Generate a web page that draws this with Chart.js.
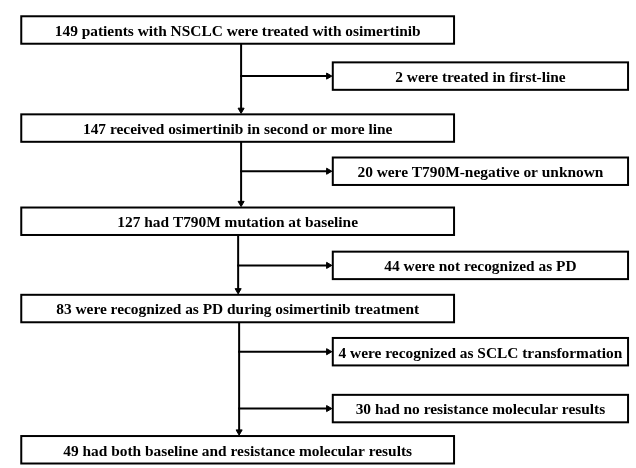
<html>

<head>
  <meta charset="utf-8">
  <style>
    html,
    body {
      margin: 0;
      padding: 0;
      background: #fff;
    }
  </style>
</head>

<body>
  <canvas id="flow" width="636" height="468"></canvas>
  <script src="https://cdn.jsdelivr.net/npm/chart.js@4.4.1/dist/chart.umd.min.js"></script>
  <script type="text/javascript">
    // patient flow: main path and the exclusions that branch off it
    const mainSteps = [
      '149 patients with NSCLC were treated with osimertinib',
      '147 received osimertinib in second or more line',
      '127 had T790M mutation at baseline',
      '83 were recognized as PD during osimertinib treatment',
      '49 had both baseline and resistance molecular results',
    ];
    const exclusions = [
      '2 were treated in first-line',
      '20 were T790M-negative or unknown',
      '44 were not recognized as PD',
      '4 were recognized as SCLC transformation',
      '30 had no resistance molecular results',
    ];
    // index of the main step each exclusion leaves from
    const exclusionFrom = [0, 1, 2, 3, 3];

    // layout (canvas units, y down)
    const mainTop = [12, 112, 207, 296, 440];
    const sideTop = [59, 156, 252, 340, 398];
    const boxH = 28;
    const mainLeft = 17, mainRight = 456;
    const sideLeft = 333, sideRight = 632.5;
    const trunkX = [240, 240, 237, 238];
    const headR = 3.5;
    const font = 'bold 15.4px "Liberation Serif"';

    const datasets = [];
    const arrow = (pts, rot) => ({
      data: pts,
      showLine: true,
      borderColor: '#000',
      borderWidth: 2,
      pointRadius: [0, headR],
      pointHoverRadius: 0,
      pointStyle: 'triangle',
      rotation: [0, rot],
      pointBackgroundColor: '#000',
      pointBorderColor: '#000',
      pointBorderWidth: 1,
    });
    // vertical trunk between main steps
    for (let i = 0; i < mainSteps.length - 1; i++) {
      datasets.push(arrow([
        { x: trunkX[i], y: mainTop[i] + boxH },
        { x: trunkX[i], y: mainTop[i + 1] - 1 - headR },
      ], 180));
    }
    // side branches to exclusion boxes
    exclusions.forEach((t, j) => {
      const y = sideTop[j] + boxH / 2;
      datasets.push(arrow([
        { x: trunkX[exclusionFrom[j]] - 1, y: y },
        { x: sideLeft - 1 - headR, y: y },
      ], 90));
    });

    const boxes = {
      id: 'boxes',
      afterDatasetsDraw(chart) {
        const { ctx, scales: { x, y } } = chart;
        const draw = (l, r, top, h, text) => {
          const px = x.getPixelForValue(l), pr = x.getPixelForValue(r);
          const py = y.getPixelForValue(top), pb = y.getPixelForValue(top + h);
          ctx.save();
          ctx.fillStyle = '#fff';
          ctx.fillRect(px, py, pr - px, pb - py);
          ctx.lineWidth = 2;
          ctx.strokeStyle = '#000';
          ctx.strokeRect(px, py, pr - px, pb - py);
          ctx.fillStyle = '#000';
          ctx.font = font;
          ctx.textAlign = 'center';
          ctx.textBaseline = 'alphabetic';
          ctx.fillText(text, (px + pr) / 2, (py + pb) / 2 + 5.9);
          ctx.restore();
        };
        mainSteps.forEach((t, i) => draw(mainLeft, mainRight, mainTop[i], boxH, t));
        exclusions.forEach((t, j) => draw(sideLeft, sideRight, sideTop[j], boxH, t));
      },
    };

    new Chart(document.getElementById('flow'), {
      type: 'scatter',
      data: { datasets },
      options: {
        responsive: false,
        animation: false,
        devicePixelRatio: 1,
        layout: { padding: 0 },
        plugins: { legend: { display: false }, tooltip: { enabled: false } },
        scales: {
          x: { type: 'linear', min: 0, max: 636, display: false },
          y: { type: 'linear', min: 0, max: 468, reverse: true, display: false },
        },
      },
      plugins: [boxes],
    });
  </script>
</body>

</html>
